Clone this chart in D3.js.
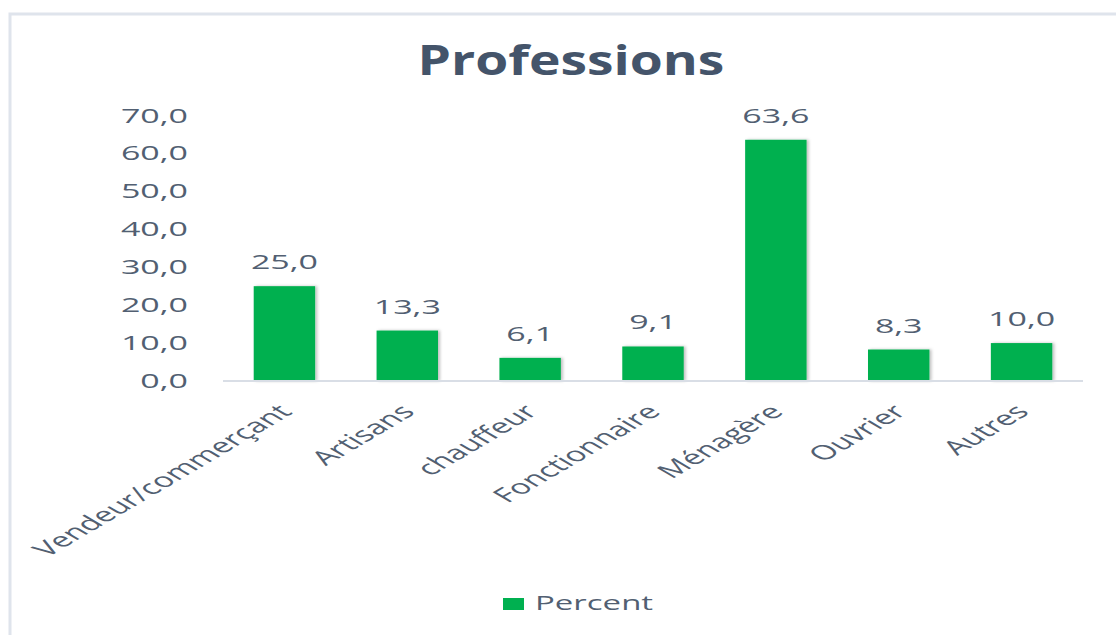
<!DOCTYPE html>
<html>
<head>
<meta charset="utf-8">
<script src="https://cdn.jsdelivr.net/npm/d3@7"></script>
<style>
  body { margin: 0; background: #fff; }
  text { font-family: "Open Sans", sans-serif; }
</style>
</head>
<body>
<div class="chart"></div>
<script>
// Data
const categories = ["Vendeur/commerçant", "Artisans", "chauffeur", "Fonctionnaire", "Ménagère", "Ouvrier", "Autres"];
const percent = [25.0, 13.3, 6.1, 9.1, 63.6, 8.3, 10.0];
const yTicks = [0, 10, 20, 30, 40, 50, 60, 70];
const seriesName = "Percent";
const title = "Professions";

const W = 1116, H = 635;
const plot = {left: 223, right: 1083, top: 115.5, bottom: 381};
const sx = 1.7;        // horizontal stretch of the source picture
const sxTitle = 1.27;
const textColor = "#525f72";

const fmt = v => d3.format(".1f")(v).replace(".", ",");

const svg = d3.select(".chart").append("svg")
  .attr("width", W)
  .attr("height", H);

// light shadow on bars
const defs = svg.append("defs");
const f = defs.append("filter").attr("id", "shadow")
  .attr("x", "-20%").attr("y", "-20%").attr("width", "140%").attr("height", "140%");
f.append("feDropShadow").attr("dx", 2).attr("dy", 0).attr("stdDeviation", 1.5)
  .attr("flood-color", "#000").attr("flood-opacity", 0.25);

// chart frame
svg.append("rect")
  .attr("x", 10).attr("y", 14)
  .attr("width", W + 20).attr("height", H + 20)
  .attr("fill", "none")
  .attr("stroke", "#dfe4ec")
  .attr("stroke-width", 3);

//Scales
const xScale = d3.scaleBand()
  .domain(categories)
  .range([plot.left, plot.right])
  .paddingInner(0.5)
  .paddingOuter(0.25);

const yScale = d3.scaleLinear()
  .domain([0, 70])
  .range([plot.bottom, plot.top]);

// Title
svg.append("g")
  .attr("transform", `translate(571,75) scale(${sxTitle},1)`)
  .append("text")
  .attr("text-anchor", "middle")
  .attr("font-size", 42)
  .attr("font-weight", 700)
  .attr("fill", "#44546a")
  .text(title);

// Y axis labels (no line)
const yAxis = svg.append("g").attr("class", "y-axis");
yAxis.selectAll("g")
  .data(yTicks)
  .join("g")
  .attr("transform", d => `translate(188,${yScale(d) + 7}) scale(${sx},1)`)
  .append("text")
  .attr("text-anchor", "end")
  .attr("font-size", 20)
  .attr("fill", textColor)
  .text(d => fmt(d));

// Bars
svg.selectAll(".bar")
  .data(percent)
  .join("rect")
  .attr("class", "bar")
  .attr("x", (d, i) => xScale(categories[i]))
  .attr("y", d => yScale(d))
  .attr("width", xScale.bandwidth())
  .attr("height", d => yScale(0) - yScale(d))
  .attr("fill", "#00b050")
  .attr("filter", "url(#shadow)");

// X axis line
svg.append("line")
  .attr("x1", plot.left).attr("x2", plot.right)
  .attr("y1", yScale(0)).attr("y2", yScale(0))
  .attr("stroke", "#d9dee6")
  .attr("stroke-width", 2);

// Data labels
svg.selectAll(".lbl")
  .data(percent)
  .join("g")
  .attr("class", "lbl")
  .attr("transform", (d, i) => `translate(${xScale(categories[i]) + xScale.bandwidth() / 2},${yScale(d) - 17}) scale(${sx},1)`)
  .append("text")
  .attr("text-anchor", "middle")
  .attr("font-size", 20)
  .attr("fill", textColor)
  .text(d => fmt(d));

// Category labels, rotated
svg.selectAll(".cat")
  .data(categories)
  .join("g")
  .attr("class", "cat")
  .attr("transform", d => `translate(${xScale(d) + xScale.bandwidth() / 2 + 9},${yScale(0) + 32}) scale(${sx},1) rotate(-45)`)
  .append("text")
  .attr("text-anchor", "end")
  .attr("font-size", 20)
  .attr("fill", textColor)
  .text(d => d);

// Legend
const legend = svg.append("g").attr("transform", "translate(503,598)");
legend.append("rect")
  .attr("width", 21).attr("height", 12)
  .attr("fill", "#00b050");
legend.append("g")
  .attr("transform", `translate(32,12) scale(${sx * 0.97},1)`)
  .append("text")
  .attr("font-size", 20)
  .attr("fill", textColor)
  .text(seriesName);
</script>
</body>
</html>
